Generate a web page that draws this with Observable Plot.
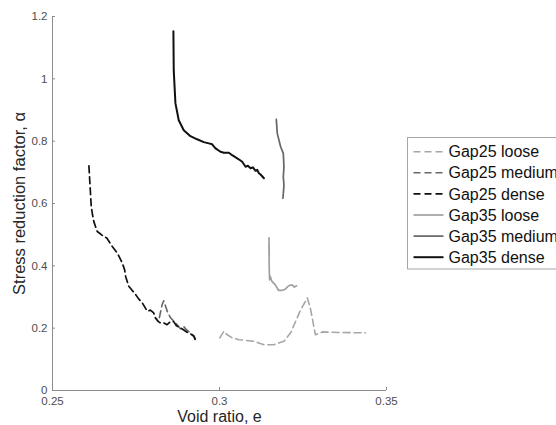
<!DOCTYPE html>
<html>
<head>
<meta charset="utf-8">
<script src="https://cdn.jsdelivr.net/npm/d3@7"></script>
<script src="https://cdn.jsdelivr.net/npm/@observablehq/plot@0.6"></script>
<style>
  html, body { margin: 0; padding: 0; background: #fff; }
  #chart { position: relative; width: 556px; height: 425px; overflow: hidden; }
  svg { font-family: "Liberation Sans", Arial, Helvetica, sans-serif; }
</style>
</head>
<body>
<div id="chart"></div>
<script>
// Stress reduction factor α against void ratio e, [e, α] pairs per test
const gap25Loose = [
  [0.3001, 0.169], [0.3013, 0.190], [0.3023, 0.179], [0.3038, 0.169],
  [0.3058, 0.163], [0.3078, 0.161], [0.3103, 0.158], [0.3133, 0.147],
  [0.3163, 0.147], [0.3193, 0.158], [0.3213, 0.185], [0.3243, 0.259],
  [0.3263, 0.297], [0.3273, 0.259], [0.3287, 0.179], [0.3308, 0.188],
  [0.3362, 0.186], [0.3437, 0.185]
];
const gap25Medium = [
  [0.2820, 0.234], [0.2828, 0.275], [0.2833, 0.288], [0.2838, 0.272],
  [0.2844, 0.253], [0.2853, 0.234], [0.2862, 0.224], [0.2873, 0.211],
  [0.2883, 0.198], [0.2893, 0.205], [0.2901, 0.195], [0.2908, 0.189],
  [0.2916, 0.182], [0.2923, 0.176], [0.2928, 0.166]
];
const gap25Dense = [
  [0.2609, 0.721], [0.2612, 0.665], [0.2616, 0.590], [0.2620, 0.563],
  [0.2624, 0.541], [0.2634, 0.510], [0.2644, 0.502], [0.2654, 0.493],
  [0.2662, 0.490], [0.2679, 0.462], [0.2694, 0.441], [0.2709, 0.409],
  [0.2716, 0.387], [0.2719, 0.366], [0.2728, 0.335], [0.2737, 0.323],
  [0.2746, 0.312], [0.2758, 0.294], [0.2769, 0.281], [0.2784, 0.254],
  [0.2793, 0.258], [0.2803, 0.249], [0.2808, 0.233], [0.2817, 0.221],
  [0.2823, 0.217], [0.2833, 0.217], [0.2843, 0.211], [0.2853, 0.221],
  [0.2863, 0.221], [0.2871, 0.208], [0.2883, 0.201], [0.2892, 0.195],
  [0.2903, 0.187], [0.2913, 0.182], [0.2923, 0.174], [0.2928, 0.161]
];
const gap35Loose = [
  [0.3148, 0.490], [0.3149, 0.435], [0.3148, 0.467], [0.3149, 0.387],
  [0.3150, 0.355], [0.3152, 0.366], [0.3157, 0.350], [0.3167, 0.339],
  [0.3177, 0.321], [0.3187, 0.321], [0.3197, 0.325], [0.3207, 0.336],
  [0.3217, 0.339], [0.3224, 0.332], [0.3231, 0.336]
];
const gap35Medium = [
  [0.3170, 0.870], [0.3173, 0.825], [0.3183, 0.782], [0.3191, 0.761],
  [0.3193, 0.718], [0.3191, 0.686], [0.3193, 0.659], [0.3190, 0.617]
];
const gap35Dense = [
  [0.2862, 1.153], [0.2863, 1.027], [0.2868, 0.922], [0.2878, 0.867],
  [0.2893, 0.835], [0.2913, 0.816], [0.2933, 0.806], [0.2953, 0.797],
  [0.2968, 0.793], [0.2978, 0.790], [0.2988, 0.777], [0.3003, 0.766],
  [0.3013, 0.763], [0.3028, 0.763], [0.3038, 0.755], [0.3053, 0.745],
  [0.3063, 0.738], [0.3068, 0.734], [0.3073, 0.726], [0.3078, 0.718],
  [0.3085, 0.721], [0.3093, 0.713], [0.3100, 0.716], [0.3108, 0.705],
  [0.3113, 0.708], [0.3118, 0.697], [0.3123, 0.693], [0.3133, 0.681]
];

const xTicks = [0.25, 0.3, 0.35];
const yTicks = [0, 0.2, 0.4, 0.6, 0.8, 1, 1.2];

const series = [
  {name: "Gap25 loose",  data: gap25Loose,  stroke: "#a6a6a6", dash: "7,4", width: 1.6},
  {name: "Gap25 medium", data: gap25Medium, stroke: "#666666", dash: "7,4", width: 1.6},
  {name: "Gap25 dense",  data: gap25Dense,  stroke: "#111111", dash: "7,4", width: 1.7},
  {name: "Gap35 loose",  data: gap35Loose,  stroke: "#a0a0a0", dash: null,  width: 1.7},
  {name: "Gap35 medium", data: gap35Medium, stroke: "#666666", dash: null,  width: 1.7},
  {name: "Gap35 dense",  data: gap35Dense,  stroke: "#111111", dash: null,  width: 2}
];

const fmt = d => String(d);

const plot = Plot.plot({
  width: 556,
  height: 425,
  marginLeft: 52,
  marginRight: 170,
  marginTop: 16,
  marginBottom: 35,
  style: {fontFamily: "Liberation Sans, Arial, sans-serif", background: "#fff"},
  x: {domain: [0.25, 0.35]},
  y: {domain: [0, 1.2]},
  marks: [
    Plot.ruleY([0], {stroke: "#8c8c8c"}),
    Plot.ruleX([0.25], {stroke: "#8c8c8c"}),
    Plot.axisX(xTicks, {tickSize: -3, tickPadding: 9, tickFormat: fmt, stroke: "#8c8c8c",
      fill: "#4d4d4d", fontSize: 11.5, label: null}),
    Plot.axisY(yTicks, {tickSize: -3, tickPadding: 8, tickFormat: fmt, stroke: "#8c8c8c",
      fill: "#4d4d4d", fontSize: 11.5, label: null}),
    ...series.map(s => Plot.line(s.data, {
      x: d => d[0], y: d => d[1],
      stroke: s.stroke, strokeWidth: s.width,
      strokeDasharray: s.dash, strokeLinejoin: "round"
    })),
    Plot.text(["Void ratio, e"], {frameAnchor: "bottom", lineAnchor: "middle", textAnchor: "middle",
      dy: 26.5, fontSize: 16, fill: "#262626"}),
    Plot.text(["Stress reduction factor, α"], {frameAnchor: "left", textAnchor: "middle",
      lineAnchor: "middle", rotate: -90, dx: -33, fontSize: 16.5, fill: "#262626"})
  ]
});

// Legend box to the right of the axes
const svg = d3.select(plot);
const lg = svg.append("g").attr("class", "legend")
  .attr("text-anchor", "start").attr("font-size", 16);
const rowH = 21.1, firstRowY = 151.7, boxX = 407.5;
lg.append("rect")
  .attr("x", boxX).attr("y", 137.5)
  .attr("width", 200).attr("height", 131.5)
  .attr("fill", "#fff").attr("stroke", "#a6a6a6").attr("stroke-width", 1);
series.forEach((s, i) => {
  const y = firstRowY + i * rowH;
  lg.append("line")
    .attr("x1", boxX + 6).attr("x2", boxX + 36)
    .attr("y1", y).attr("y2", y)
    .attr("stroke", s.stroke).attr("stroke-width", s.width)
    .attr("stroke-dasharray", s.dash);
  lg.append("text")
    .attr("x", boxX + 41).attr("y", y).attr("dy", "0.35em")
    .attr("fill", "#111")
    .text(s.name);
});

document.getElementById("chart").appendChild(plot);
</script>
</body>
</html>
